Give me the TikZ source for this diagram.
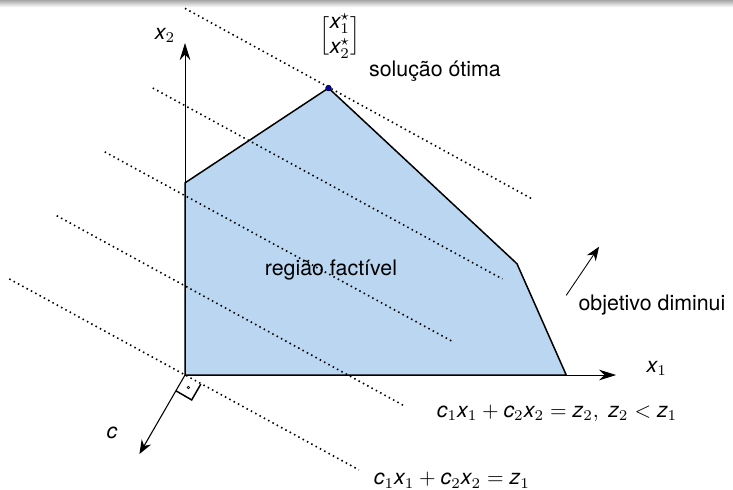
\documentclass[tikz,border=0pt]{standalone}
\usepackage{amsmath}
\usepackage{fontspec}
\setmainfont{TeX Gyre Heros}
\usetikzlibrary{arrows.meta}
\definecolor{regiao}{RGB}{186,214,241}
\newcommand{\mv}[1]{\mathit{#1}}

\begin{document}
\begin{tikzpicture}[every node/.style={font=\normalsize},>=Stealth,
  nivel/.style={line width=0.75pt,dash pattern=on 0.7pt off 1.6pt},
  borda/.style={line width=0.7pt,line join=miter},
  eixo/.style={-{Stealth[length=8pt,width=5pt]}},
  seta/.style={-{Stealth[length=6.5pt,width=5pt]}}]
\useasboundingbox (-3.043,-1.875) rectangle (9.013,6.168);
\shade[top color=black!35,bottom color=white] (-3.043,6.05) rectangle (9.013,6.168);
% vertices da regiao
\coordinate (o) at (0,0);
\coordinate (p1) at (0,3.16);
\coordinate (p2) at (2.36,4.72);
\coordinate (p3) at (5.46,1.83);
\coordinate (p4) at (6.27,0);
\coordinate (x1fim) at (7.09,0);
\coordinate (x2fim) at (0,5.46);
\coordinate (cfim) at (-120:1.5);
\coordinate (oa) at (6.27,1.31);
\coordinate (ob) at (6.81,2.11);
\fill[regiao] (o)--(p1)--(p2)--(p3)--(p4)--cycle;
\draw[eixo] (o)--(x1fim);
\draw[eixo] (o)--(x2fim);
\draw[borda] (p4)--(o)--(p1)--(p2)--(p3)--(p4);
% retas de nivel
\draw[nivel] (0,6.03)--(5.72,2.89);
\draw[nivel] (-0.53,4.72)--(5.22,1.58);
\draw[nivel] (-1.32,3.67)--(4.42,0.54);
\draw[nivel] (-2.11,2.62)--(3.63,-0.52);
\draw[nivel] (-2.89,1.58)--(2.86,-1.56);
% vetor c
\draw[seta,line width=0.5pt] (o)--(cfim);
\draw[borda] (o) ++(-120:0.3) -- ++(-30:0.3) -- ++(60:0.3);
\draw[line width=0.3pt] (o) ++(-75:0.212) circle (0.6pt);
\draw[seta] (oa)--(ob);
\node[circle,draw,fill=blue!80!black,inner sep=0pt,minimum size=2.6pt,line width=0.3pt] (opt) at (p2) {};
\node (x1) at (7.76,0.11) {$\mv{x}_1$};
\node (x2) at (-0.33,5.59) {$\mv{x}_2$};
\node (xs) at (2.55,5.58) {$\delimiterfactor=700 \delimitershortfall=10pt
  \left[\begin{array}{@{}c@{}}\mv{x}_1^\star\\ \mv{x}_2^\star\end{array}\right]$};
\node (sol) at (4.11,4.99) {solução ótima};
\node (reg) at (2.40,1.72) {região factível};
\node (obj) at (7.68,1.15) {objetivo diminui};
\node (c) at (-1.20,-0.95) {$\mv{c}$};
\node (z2) at (6.12,-0.63) {$\mv{c}_1\mv{x}_1+\mv{c}_2\mv{x}_2=\mv{z}_2,\ \mv{z}_2<\mv{z}_1$};
\node (z1) at (4.39,-1.73) {$\mv{c}_1\mv{x}_1+\mv{c}_2\mv{x}_2=\mv{z}_1$};
\end{tikzpicture}
\end{document}
